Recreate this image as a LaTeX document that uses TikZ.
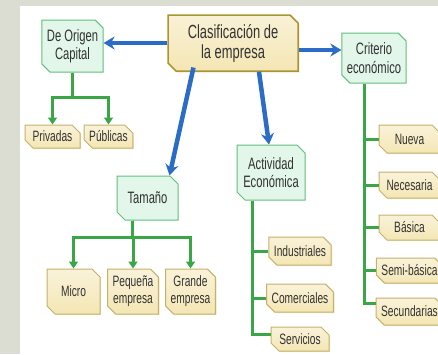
\documentclass[tikz,border=0pt]{standalone}
\usepackage{tikz}
\usepackage{fontspec}
\setmainfont[FakeStretch=0.68]{Liberation Sans}
\usetikzlibrary{shapes.misc, arrows.meta, positioning, calc, shadows}
\definecolor{fondo}{RGB}{220,221,210}
\definecolor{azul}{RGB}{42,108,198}
\definecolor{verde}{RGB}{58,166,70}
\definecolor{crema}{RGB}{244,230,180}
\definecolor{cremaborde}{RGB}{196,178,105}
\definecolor{oro}{RGB}{170,150,48}
\definecolor{menta}{RGB}{226,246,233}
\definecolor{mentaborde}{RGB}{95,192,125}
\definecolor{texto}{RGB}{50,50,50}
\tikzstyle{caja} = [chamfered rectangle, chamfered rectangle corners={north east,south west}, chamfered rectangle xsep=4pt, chamfered rectangle ysep=4pt, inner sep=1pt, align=center, text=texto]
\tikzstyle{raiz} = [caja, draw=oro, line width=1.5pt, top color=crema!55!white, bottom color=crema, font=\fontsize{19}{20}\selectfont, drop shadow={shadow xshift=1.5pt, shadow yshift=-1.5pt, fill=oro!40}]
\tikzstyle{tipo} = [caja, draw=mentaborde, line width=1pt, fill=menta, font=\fontsize{16.5}{18.5}\selectfont]
\tikzstyle{hoja} = [caja, draw=cremaborde, line width=1pt, top color=crema!50!white, bottom color=crema, font=\fontsize{15}{17}\selectfont, drop shadow={shadow xshift=1.2pt, shadow yshift=-1.2pt, fill=cremaborde!60}]
\tikzstyle{flecha} = [line width=4.5pt, azul, -{Stealth[length=11pt,width=13pt]}]
\tikzstyle{rama} = [line width=3pt, verde]
\tikzstyle{ramaf} = [rama, -{Triangle[length=7pt,width=9pt]}]

\begin{document}
\begin{tikzpicture}[x=1pt, y=-1pt]
        % fondo y cajas del mapa
        \fill[fondo] (0,0) rectangle (438,354);
        \fill[white] (20,6) rectangle (438,354);
        \useasboundingbox (0,0) rectangle (438,354);
        \clip (0,0) rectangle (438,354);

        \node[raiz, minimum width=130pt, minimum height=56pt] (clasificacion) at (233,43) {Clasificación de\\la empresa};
        \node[tipo, minimum width=61pt, minimum height=52pt] (origen) at (72.5,46) {De Origen\\Capital};
        \node[tipo, minimum width=54pt, minimum height=50pt] (criterio) at (374,58) {Criterio\\económico};
        \node[tipo, minimum width=68pt, minimum height=55pt] (actividad) at (271,172.5) {Actividad\\Económica};
        \node[tipo, minimum width=61pt, minimum height=44pt] (tamano) at (147.5,198) {Tamaño};

        \node[hoja, minimum width=55pt, minimum height=23pt] (privadas) at (52.5,136.5) {Privadas};
        \node[hoja, minimum width=47pt, minimum height=23pt] (publicas) at (108.5,136.5) {Públicas};
        \node[hoja, minimum width=53pt, minimum height=45pt] (micro) at (73.5,291.5) {Micro};
        \node[hoja, minimum width=50pt, minimum height=45pt] (pequena) at (133,291.5) {Pequeña\\empresa};
        \node[hoja, minimum width=45pt, minimum height=45pt] (grande) at (190.5,291.5) {Grande\\empresa};
        \node[hoja, minimum width=58pt, minimum height=28pt] (industriales) at (300,251) {Industriales};
        \node[hoja, minimum width=58pt, minimum height=28pt] (comerciales) at (300,298) {Comerciales};
        \node[hoja, minimum width=58pt, minimum height=24pt] (servicios) at (300,339) {Servicios};
        \node[hoja, minimum width=61pt, minimum height=28pt] (nueva) at (409.5,139) {Nueva};
        \node[hoja, minimum width=61pt, minimum height=26pt] (necesaria) at (409.5,185) {Necesaria};
        \node[hoja, minimum width=61pt, minimum height=25pt] (basica) at (409.5,227.5) {Básica};
        \node[hoja, minimum width=61pt, minimum height=25pt] (semibasica) at (409.5,270.5) {Semi-básica};
        \node[hoja, minimum width=61pt, minimum height=27pt] (secundarias) at (409.5,311.5) {Secundarias};

        \draw[flecha] (clasificacion.west) -- (clasificacion.west -| origen.east);
        \draw[flecha] ([yshift=-7pt]clasificacion.east) -- ([yshift=-7pt]clasificacion.east -| criterio.west);
        \draw[flecha] ([xshift=22pt]clasificacion.south west) -- ([xshift=22pt]tamano.north);
        \draw[flecha] ([xshift=26pt]clasificacion.south) -- ([xshift=-2pt]actividad.north);

        \draw[ramaf] (origen.south) -- ++(0,25) -| (privadas.north);
        \draw[ramaf] (origen.south) -- ++(0,25) -| (publicas.north);

        \draw[ramaf] ([xshift=-15pt]tamano.south) -- ++(0,17) -| (micro.north);
        \draw[ramaf] ([xshift=-15pt]tamano.south) -- ++(0,17) -| (pequena.north);
        \draw[ramaf] ([xshift=-15pt]tamano.south) -- ++(0,17) -| (grande.north);

        \coordinate (atronco) at ([xshift=-19pt]actividad.south);
        \draw[rama] (atronco) |- ([yshift=5pt]servicios.west);
        \draw[rama] (atronco |- industriales.west) -- (industriales.west);
        \draw[rama] (atronco |- comerciales.west) -- (comerciales.west);

        \coordinate (ctronco) at ([xshift=-10pt]criterio.south);
        \draw[rama] (ctronco) |- ([yshift=8pt]secundarias.west);
        \draw[rama] (ctronco |- nueva.west) -- (nueva.west);
        \draw[rama] (ctronco |- necesaria.west) -- (necesaria.west);
        \draw[rama] (ctronco |- basica.west) -- (basica.west);
        \draw[rama] (ctronco |- semibasica.west) -- (semibasica.west);
    \end{tikzpicture}
\end{document}
